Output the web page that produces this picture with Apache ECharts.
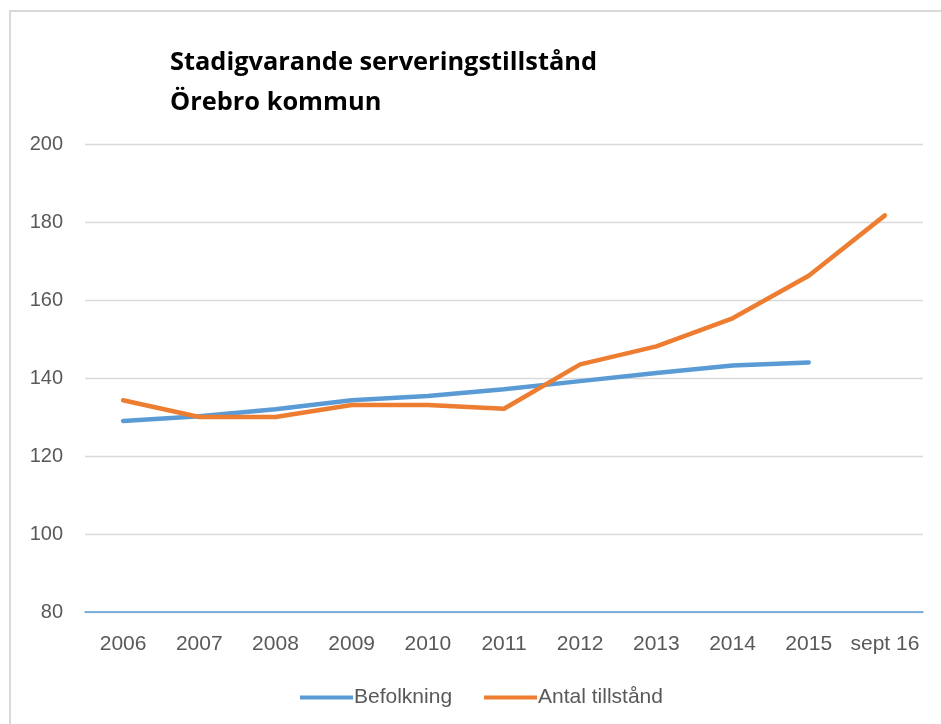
<!DOCTYPE html>
<html>
<head>
<meta charset="utf-8">
<script src="https://cdn.jsdelivr.net/npm/echarts@6/dist/echarts.min.js"></script>
<style>
html,body{margin:0;padding:0;background:#fff;}
#c{width:941px;height:724px;}
</style>
</head>
<body>
<div id="c"></div>
<script>
const categories = ['2006','2007','2008','2009','2010','2011','2012','2013','2014','2015','sept 16'];
const befolkning = [129, 130.2, 132, 134.3, 135.4, 137.1, 139.2, 141.3, 143.2, 144, null];
const antalTillstand = [134.3, 130, 130, 133.1, 133.1, 132.1, 143.5, 148.1, 155.3, 166.2, 181.7];
const yTicks = {min: 80, max: 200, interval: 20};
const titleText = 'Stadigvarande serveringstillstånd\nÖrebro kommun';

const chart = echarts.init(document.getElementById('c'), null, {renderer: 'canvas'});
chart.setOption({
  backgroundColor: '#ffffff',
  animation: false,
  title: {
    text: titleText,
    left: 165,
    top: 38,
    textStyle: {fontFamily: 'Open Sans', fontWeight: 'bold', fontSize: 25.4, lineHeight: 40, color: '#000000'}
  },
  graphic: [{
    type: 'rect',
    shape: {x: 10, y: 11, width: 1000, height: 1000},
    style: {fill: 'none', stroke: '#d9d9d9', lineWidth: 2},
    silent: true
  }],
  legend: {
    left: 295,
    top: 682,
    icon: 'rect',
    itemWidth: 53,
    itemHeight: 4,
    itemGap: 32,
    textStyle: {fontFamily: 'Liberation Sans', fontSize: 21, color: '#595959', padding: [0,0,0,-4]},
    data: ['Befolkning', 'Antal tillstånd']
  },
  grid: {left: 85, right: 18, top: 144, bottom: 112, containLabel: false},
  xAxis: {
    type: 'category',
    data: categories,
    boundaryGap: true,
    axisLine: {lineStyle: {color: '#5b9bd5', width: 1.5}},
    axisTick: {show: false},
    axisLabel: {fontFamily: 'Liberation Sans', fontSize: 21, color: '#595959', margin: 22, interval: 0}
  },
  yAxis: {
    type: 'value',
    min: yTicks.min, max: yTicks.max, interval: yTicks.interval,
    axisLine: {show: false},
    axisTick: {show: false},
    splitLine: {lineStyle: {color: '#d9d9d9', width: 1.3}},
    axisLabel: {fontFamily: 'Liberation Sans', fontSize: 20, color: '#595959', margin: 22}
  },
  series: [
    {name: 'Befolkning', type: 'line', data: befolkning, showSymbol: false, symbol: 'none',
     lineStyle: {color: '#5b9bd5', width: 4.5, cap: 'round'}, itemStyle: {color: '#5b9bd5'}},
    {name: 'Antal tillstånd', type: 'line', data: antalTillstand, showSymbol: false, symbol: 'none',
     lineStyle: {color: '#ed7d31', width: 4.5, cap: 'round'}, itemStyle: {color: '#ed7d31'}}
  ]
});
</script>
</body>
</html>
